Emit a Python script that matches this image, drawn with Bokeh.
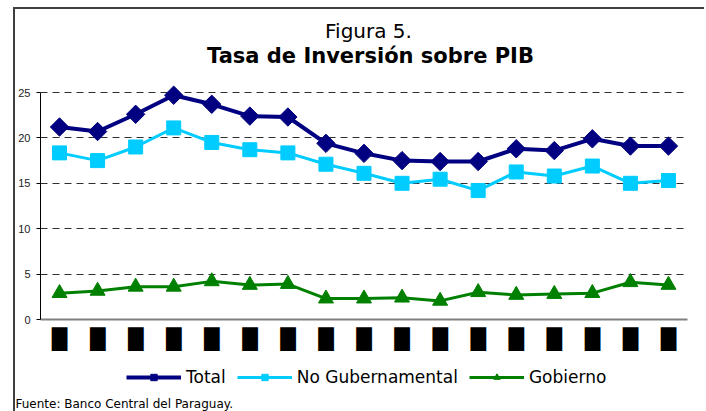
import numpy as np
from bokeh.plotting import figure
from bokeh.layouts import column
from bokeh.models import Range1d, FixedTicker, Legend, Label, Title
from bokeh.embed import file_html
from bokeh.resources import INLINE

# ---- data ----
periods = list(range(1, 18))
tick_labels = ["\u2588"] * 17
total = [21.2, 20.7, 22.6, 24.7, 23.7, 22.4, 22.3, 19.4, 18.3, 17.5, 17.4, 17.4, 18.8, 18.6, 19.9, 19.1, 19.1]
no_gub = [18.35, 17.5, 19.0, 21.1, 19.5, 18.7, 18.35, 17.1, 16.1, 15.0, 15.45, 14.2, 16.25, 15.8, 16.9, 15.0, 15.3]
gobierno = [2.9, 3.15, 3.6, 3.6, 4.2, 3.8, 3.9, 2.3, 2.3, 2.4, 2.05, 3.0, 2.7, 2.8, 2.9, 4.1, 3.8]
y_ticks = [0, 5, 10, 15, 20, 25]
series_names = ["Total", "No Gubernamental", "Gobierno"]
title_1 = "Figura 5."
title_2 = "Tasa de Inversión sobre PIB"
source_note = "Fuente: Banco Central del Paraguay."

FONT = "Liberation Sans"
WFONT = "DejaVu Sans"

COLORS = ["#000080", "#00CCFF", "#008000"]
STYLES = [dict(marker="square", angle=np.pi / 4, size=13, lw=4),
          dict(marker="square", angle=0, size=14, lw=3),
          dict(marker="triangle", angle=0, size=15, lw=3)]

# ---------------- main chart ----------------
# y range extends above 25 so the title area is part of the frame (25 -> 83px below frame top)
p = figure(width=689, height=350, frame_width=647, frame_height=310,
           output_backend="svg", toolbar_location=None,
           x_range=Range1d(0.5, 17.5), y_range=Range1d(0, 25 + 83 / 9.08),
           min_border_left=25, min_border_right=17, min_border_top=0, min_border_bottom=40)
p.outline_line_color = None
p.background_fill_color = "white"
p.border_fill_color = "white"

p.add_layout(Label(x=328, y=289, x_units="screen", y_units="screen", text=title_1,
                   text_align="center", text_baseline="alphabetic", text_font=WFONT,
                   text_font_size="20px", text_color="black"))
p.add_layout(Label(x=330, y=264, x_units="screen", y_units="screen", text=title_2,
                   text_align="center", text_baseline="alphabetic", text_font=WFONT,
                   text_font_size="21px", text_font_style="bold", text_color="black"))

for vals, col, st in zip([total, no_gub, gobierno], COLORS, STYLES):
    p.line(periods, vals, line_color=col, line_width=st["lw"])
    p.scatter(periods, vals, marker=st["marker"], angle=st["angle"], size=st["size"],
              fill_color=col, line_color=col)

p.xaxis.ticker = FixedTicker(ticks=periods)
p.xaxis.major_label_overrides = {k: v for k, v in zip(periods, tick_labels)}
p.xaxis.major_label_text_font = "DejaVu Sans"
p.xaxis.major_label_text_font_size = "20px"
p.xaxis.major_label_text_color = "black"
p.xaxis.major_tick_line_color = None
p.xaxis.minor_tick_line_color = None
p.xaxis.axis_line_color = "#808080"
p.xaxis.axis_line_width = 2
p.xaxis.major_label_standoff = 1

p.yaxis.ticker = FixedTicker(ticks=y_ticks)
p.yaxis.bounds = (0, 25)
p.yaxis.major_label_text_font = FONT
p.yaxis.major_label_text_font_size = "11px"
p.yaxis.major_label_text_color = "#222222"
p.yaxis.axis_line_color = "black"
p.yaxis.major_tick_in = 0
p.yaxis.major_tick_out = 4
p.yaxis.minor_tick_line_color = None
p.yaxis.major_label_standoff = 6

p.xgrid.grid_line_color = None
p.ygrid.grid_line_color = "#303030"
p.ygrid.grid_line_dash = "7 5"
p.ygrid.grid_line_width = 1

# ---------------- legend + source strip ----------------
p2 = figure(width=689, height=50, frame_height=34, output_backend="svg", toolbar_location=None,
            x_range=Range1d(0, 1), y_range=Range1d(0, 1),
            x_axis_location=None, y_axis_location=None,
            min_border_left=0, min_border_right=0, min_border_top=0, min_border_bottom=16)
p2.outline_line_color = None
p2.xgrid.grid_line_color = None
p2.ygrid.grid_line_color = None
p2.background_fill_color = "white"
p2.border_fill_color = "white"

items = []
for name, col, st in zip(series_names, COLORS, STYLES):
    rl = p2.line([np.nan], [np.nan], line_color=col, line_width=st["lw"])
    rm = p2.scatter([np.nan], [np.nan], marker=st["marker"], angle=st["angle"], size=st["size"],
                    fill_color=col, line_color=col)
    items.append((name, [rl, rm]))

legend = Legend(items=items, orientation="horizontal", location=(86, 6),
                label_text_font=WFONT, label_text_font_size="17px", label_text_color="black",
                glyph_width=55, glyph_height=16, spacing=11, label_standoff=5,
                border_line_color=None, background_fill_alpha=0, padding=0, margin=0)
p2.add_layout(legend, "center")

p2.add_layout(Title(text=source_note, align="left", offset=-25, standoff=2,
                    text_font=WFONT, text_font_size="12px", text_font_style="normal",
                    text_color="black"), "below")

layout = column(p, p2, spacing=0, margin=(7, 0, 0, 13),
                styles={"border-left": "2px solid #404040", "border-top": "2px solid #404040"})
open("out.html", "w").write(file_html(layout, INLINE))
